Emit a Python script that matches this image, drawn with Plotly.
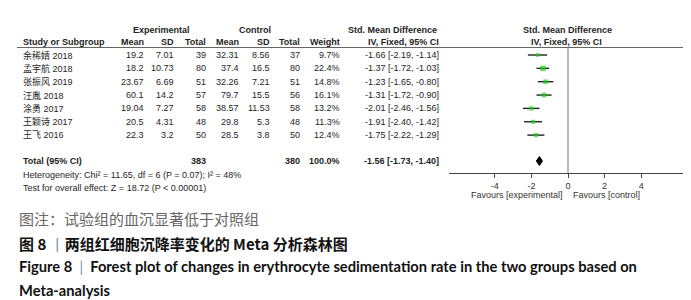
import plotly.graph_objects as go

W, H = 691, 300

studies = ["余稀婧 2018", "孟宇航 2018", "张振风 2019", "汪胤 2018", "涂勇 2017", "王颖诗 2017", "王飞 2016"]
exp_mean = ["19.2", "18.2", "23.67", "60.1", "19.04", "20.5", "22.3"]
exp_sd = ["7.01", "10.73", "6.69", "14.2", "7.27", "4.31", "3.2"]
exp_n = [39, 80, 51, 57, 58, 48, 50]
ctl_mean = ["32.31", "37.4", "32.26", "79.7", "38.57", "29.8", "28.5"]
ctl_sd = ["8.56", "16.5", "7.21", "15.5", "11.53", "5.3", "3.8"]
ctl_n = [37, 80, 51, 56, 58, 48, 50]
weight = [9.7, 22.4, 14.8, 16.1, 13.2, 11.3, 12.4]
smd = [-1.66, -1.37, -1.23, -1.31, -2.01, -1.91, -1.75]
ci_lo = [-2.19, -1.72, -1.65, -1.72, -2.46, -2.40, -2.22]
ci_hi = [-1.14, -1.03, -0.80, -0.90, -1.56, -1.42, -1.29]

total_exp, total_ctl = 383, 380
total_weight = "100.0%"
total_smd, total_lo, total_hi = -1.56, -1.73, -1.40
heterogeneity = "Heterogeneity: Chi² = 11.65, df = 6 (P = 0.07); I² = 48%"
overall = "Test for overall effect: Z = 18.72 (P < 0.00001)"
tick_vals = [-4, -2, 0, 2, 4]
tick_text = ["-4", "-2", "0", "2", "4"]
axis_range = [-6.5, 6.5]

cap1 = "图注：试验组的血沉显著低于对照组"
cap2 = "<b>图 8 </b><span style='color:#7a8fb0'>丨</span><b>两组红细胞沉降率变化的 Meta 分析森林图</b>"
cap3 = "<b>Figure 8  </b><span style='color:#7a8fb0'>|</span><b>  Forest plot of changes in erythrocyte sedimentation rate in the two groups based on</b>"
cap4 = "<b>Meta-analysis</b>"

# layout (pixels)
FONT = "Liberation Sans, Arial, sans-serif"
CJK = "Liberation Sans, Noto Sans CJK SC, sans-serif"
TXT = "#1e1e1e"
FS = 9
row0, dy = 47, 13.35
rows = [row0 + i * dy for i in range(len(studies))]
y_total = 153
zero_px = 560
px_per_unit = 18.3
dom = [(zero_px + axis_range[0] * px_per_unit) / W, (zero_px + axis_range[1] * px_per_unit) / W]
axis_y = 165

fig = go.Figure()

def ann(text, xpx, y, anchor="left", bold=False, size=FS, font=FONT, color=TXT):
    fig.add_annotation(x=xpx / W, y=y, xref="paper", yref="y", text=(f"<b>{text}</b>" if bold else text),
                       showarrow=False, xanchor=anchor, yanchor="middle",
                       font=dict(family=font, size=size, color=color), borderpad=0)

# headers
ann("Experimental", 153, 22, "center", True)
ann("Control", 247, 22, "center", True)
ann("Std. Mean Difference", 384, 22, "center", True)
ann("Std. Mean Difference", 559, 22, "center", True)
ann("Study or Subgroup", 14, 34, "left", True)
for t, x in [("Mean", 137), ("SD", 167), ("Total", 199), ("Mean", 232), ("SD", 263), ("Total", 293), ("Weight", 333), ("IV, Fixed, 95% CI", 432)]:
    ann(t, x, 34, "right", True)
ann("IV, Fixed, 95% CI", 558, 34, "center", True)

for i, y in enumerate(rows):
    ann(studies[i], 14, y, "left", font=CJK)
    ann(exp_mean[i], 137, y, "right")
    ann(exp_sd[i], 167, y, "right")
    ann(str(exp_n[i]), 199, y, "right")
    ann(ctl_mean[i], 232, y, "right")
    ann(ctl_sd[i], 263, y, "right")
    ann(str(ctl_n[i]), 293, y, "right")
    ann(f"{weight[i]:.1f}%", 333, y, "right")
    ann(f"{smd[i]:.2f} [{ci_lo[i]:.2f}, {ci_hi[i]:.2f}]", 432, y, "right")

ann("Total (95% CI)", 14, y_total, "left", True)
ann(str(total_exp), 199, y_total, "right", True)
ann(str(total_ctl), 293, y_total, "right", True)
ann(total_weight, 333, y_total, "right", True)
ann(f"{total_smd:.2f} [{total_lo:.2f}, {total_hi:.2f}]", 432, y_total, "right", True)
ann(heterogeneity, 14, y_total + 14, "left")
ann(overall, 14, y_total + 27, "left")

ann("Favours [experimental]", 556, 187, "right", color="#333")
ann("Favours [control]", 564, 187, "left", color="#333")

# captions
ann(cap1, 10, 210, "left", size=15, font="Noto Sans CJK SC", color="#666")
ann(cap2, 10, 235, "left", size=15, font="Noto Sans CJK SC", color="#111")
ann(cap3, 10, 258, "left", size=14.7, font="Lato, Noto Sans, sans-serif", color="#111")
ann(cap4, 10, 282, "left", size=14.7, font="Lato, Noto Sans, sans-serif", color="#111")

# header rule, zero line
fig.add_shape(type="line", xref="paper", yref="y", x0=9 / W, x1=680 / W, y0=39.5, y1=39.5,
              line=dict(color="#666", width=1))
fig.add_shape(type="line", xref="x", yref="y", x0=0, x1=0, y0=39.5, y1=axis_y,
              line=dict(color="#777", width=1))

# CI lines
xs, ys = [], []
for lo, hi, y in zip(ci_lo, ci_hi, rows):
    xs += [lo, hi, None]
    ys += [y, y, None]
fig.add_trace(go.Scatter(x=xs, y=ys, mode="lines", line=dict(color="#222", width=1.4),
                         hoverinfo="skip", showlegend=False))
fig.add_trace(go.Scatter(x=smd, y=rows, mode="markers",
                         marker=dict(symbol="square", color="#17d117", size=[1.15 * w ** 0.5 for w in weight],
                                     line=dict(width=0)),
                         showlegend=False))
# diamond
hd = 4.5
fig.add_trace(go.Scatter(x=[total_lo, total_smd, total_hi, total_smd, total_lo],
                         y=[y_total, y_total - hd, y_total, y_total + hd, y_total],
                         mode="lines", fill="toself", fillcolor="#000", line=dict(color="#000", width=1),
                         showlegend=False, hoverinfo="skip"))

fig.update_layout(
    width=W, height=H, margin=dict(l=0, r=0, t=0, b=0),
    paper_bgcolor="white", plot_bgcolor="rgba(0,0,0,0)",
    xaxis=dict(domain=dom, range=axis_range, anchor="free", position=1 - axis_y / H,
               showline=True, linecolor="#444", linewidth=1, showgrid=False, zeroline=False,
               tickvals=tick_vals, ticktext=tick_text, ticks="outside", ticklen=4, tickcolor="#444",
               tickfont=dict(family=FONT, size=FS, color="#333"), fixedrange=True),
    yaxis=dict(domain=[0, 1], range=[H, 0], visible=False, fixedrange=True),
    showlegend=False,
)

fig.write_html("out.html")
